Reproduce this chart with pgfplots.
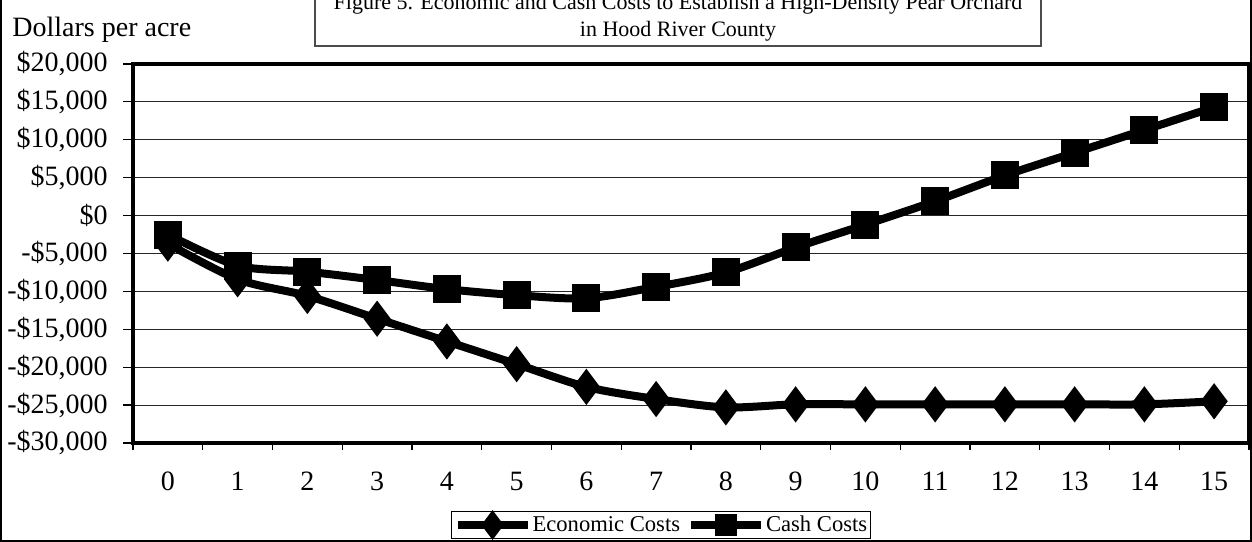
\documentclass[border=0pt]{standalone}
\usepackage{fontspec}
\setmainfont{Liberation Serif}
\usepackage{pgfplots}
\pgfplotsset{compat=1.18}
\begin{document}
\begin{tikzpicture}
\useasboundingbox (0,0) rectangle (626bp,271bp);
\draw[line width=0.6bp] (0.5bp,300bp) -- (0.5bp,0.5bp) -- (625.5bp,0.5bp) -- (625.5bp,300bp);
\begin{axis}[
  at={(66.5bp,49.5bp)}, anchor=south west,
  scale only axis, width=558bp, height=189.5bp,
  xmin=-0.5, xmax=15.5, ymin=-30000, ymax=20000,
  scaled y ticks=false,
  xtick={0,...,15},
  xticklabels={0,1,2,3,4,5,6,7,8,9,10,11,12,13,14,15},
  major x tick style={draw=none},
  minor xtick={-0.5,0.5,...,15.5},
  ytick={-30000,-25000,...,20000},
  yticklabels={{-\$30,000},{-\$25,000},{-\$20,000},{-\$15,000},{-\$10,000},{-\$5,000},{\$0},{\$5,000},{\$10,000},{\$15,000},{\$20,000}},
  ymajorgrids, grid style={line width=0.5bp, black!85},
  tick align=outside, tick pos=left,
  major tick length=5bp, minor tick length=3.5bp,
  tick style={line width=0.6bp, black},
  axis line style={line width=1.6bp},
  tick label style={font=\fontsize{14bp}{16bp}\selectfont},
  yticklabel style={anchor=east, inner sep=0pt, xshift=-7.5bp},
  xticklabel style={anchor=center, inner sep=0pt, yshift=-14.3bp},
  legend columns=2,
  legend image code/.code={\draw[#1, mark repeat=2, mark phase=2, mark options={scale=0.72}] plot coordinates {(0bp,0bp) (17.5bp,0bp) (35bp,0bp)};},
  legend style={at={(0.473,-0.2164)}, anchor=center, draw=black, line width=0.5bp,
    font=\fontsize{11.3bp}{13bp}\selectfont, inner xsep=1bp, inner ysep=1.5bp,
    nodes={inner sep=0.5bp},
    /tikz/every even column/.append style={column sep=3bp}},
  clip=false,
]
\addplot[black, line width=4bp, smooth, tension=0.5, mark=diamond*, mark size=5.75bp, mark options={solid, fill=black}] coordinates {
(0,-3700) (1,-8400) (2,-10600) (3,-13600) (4,-16600) (5,-19600) (6,-22600) (7,-24200)
(8,-25300) (9,-24900) (10,-24900) (11,-24900) (12,-24900) (13,-24900) (14,-24900) (15,-24500)};
\addlegendentry{Economic Costs}
\addplot[black, line width=4bp, smooth, tension=0.5, mark=square*, mark size=5bp, mark options={solid, fill=black}] coordinates {
(0,-2500) (1,-6600) (2,-7400) (3,-8500) (4,-9700) (5,-10500) (6,-10900) (7,-9400)
(8,-7500) (9,-4200) (10,-1200) (11,1900) (12,5300) (13,8300) (14,11300) (15,14300)};
\addlegendentry{Cash Costs}
\end{axis}
\draw[line width=0.6bp, black!70, fill=white] (157.5bp,248bp) rectangle (520.5bp,300bp);
\node[anchor=base, inner sep=0pt, font=\fontsize{11bp}{13bp}\selectfont] at (339bp,266bp) {Figure 5. Economic and Cash Costs to Establish a High-Density Pear Orchard};
\node[anchor=base, inner sep=0pt, font=\fontsize{11bp}{13bp}\selectfont] at (339bp,252.5bp) {in Hood River County};
\node[anchor=base west, inner sep=0pt, font=\fontsize{14bp}{16bp}\selectfont] at (6bp,252.5bp) {Dollars per acre};
\end{tikzpicture}
\end{document}
